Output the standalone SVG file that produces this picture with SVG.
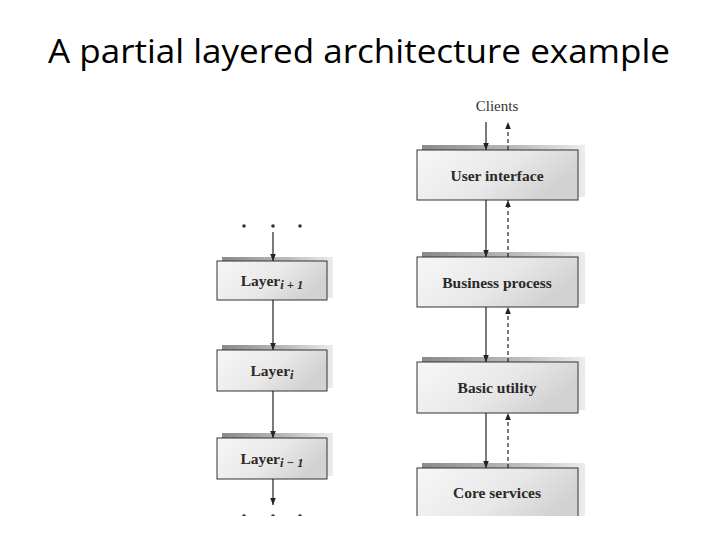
<svg xmlns="http://www.w3.org/2000/svg" width="720" height="540" viewBox="0 0 720 540">
<defs>
<linearGradient id="boxg" x1="0" y1="0" x2="1" y2="0.4">
<stop offset="0" stop-color="#f7f7f7"/>
<stop offset="0.6" stop-color="#e8e8e8"/>
<stop offset="1" stop-color="#d2d2d2"/>
</linearGradient>
<linearGradient id="shg" x1="0" y1="0" x2="1" y2="0">
<stop offset="0" stop-color="#8a8a8a"/>
<stop offset="0.6" stop-color="#bdbdbd"/>
<stop offset="1" stop-color="#ececec"/>
</linearGradient>
<marker id="ah" viewBox="0 0 10 10" refX="10" refY="5" markerWidth="7" markerHeight="7" orient="auto" markerUnits="userSpaceOnUse">
<path d="M0,1 L10,5 L0,9 Z" fill="#222"/>
</marker>
<clipPath id="crop"><rect x="0" y="0" width="720" height="516"/></clipPath>
</defs>
<style>
.title{font-family:"Open Sans","Liberation Sans",sans-serif;font-size:33px;fill:#000}
.lbl{font-family:"Liberation Serif","DejaVu Serif",serif;font-weight:bold;font-size:15.5px;fill:#2a2a2a}
.sub{font-style:italic;font-size:12.5px}
.cl{font-family:"Liberation Serif","DejaVu Serif",serif;font-size:15px;fill:#333}
.box{fill:url(#boxg);stroke:#333;stroke-width:1}
.sh{fill:url(#shg)}
.solid{stroke:#222;stroke-width:1.2;fill:none;marker-end:url(#ah)}
.dash{stroke:#222;stroke-width:1.2;fill:none;stroke-dasharray:4,3;marker-end:url(#ah)}
.dot{fill:#333}
</style>
<rect width="720" height="540" fill="#fff"/>
<text class="title" x="359" y="63" text-anchor="middle" textLength="622" lengthAdjust="spacingAndGlyphs">A partial layered architecture example</text>

<g clip-path="url(#crop)">
<g id="clients"><text class="cl" x="497" y="111" text-anchor="middle">Clients</text></g>

<g id="user-interface">
<rect class="sh" x="422" y="145" width="163" height="52"/>
<rect class="box" x="417" y="150" width="161" height="50"/>
<text class="lbl" x="497" y="181" text-anchor="middle">User interface</text>
</g>
<g id="business-process">
<rect class="sh" x="422" y="252" width="163" height="52"/>
<rect class="box" x="417" y="257" width="161" height="50"/>
<text class="lbl" x="497" y="288" text-anchor="middle">Business process</text>
</g>
<g id="basic-utility">
<rect class="sh" x="422" y="357" width="163" height="53"/>
<rect class="box" x="417" y="362" width="161" height="51"/>
<text class="lbl" x="497" y="393" text-anchor="middle">Basic utility</text>
</g>
<g id="core-services">
<rect class="sh" x="422" y="463" width="163" height="62"/>
<rect class="box" x="417" y="468" width="161" height="60"/>
<text class="lbl" x="497" y="498" text-anchor="middle">Core services</text>
</g>

<g id="layer-i-plus-1">
<rect class="sh" x="222" y="257" width="111" height="41"/>
<rect class="box" x="217" y="261" width="110" height="39"/>
<text class="lbl" x="272" y="286" text-anchor="middle">Layer<tspan class="sub" dy="3">i + 1</tspan></text>
</g>
<g id="layer-i">
<rect class="sh" x="222" y="345" width="111" height="43"/>
<rect class="box" x="217" y="350" width="110" height="41"/>
<text class="lbl" x="272" y="376" text-anchor="middle">Layer<tspan class="sub" dy="3">i</tspan></text>
</g>
<g id="layer-i-minus-1">
<rect class="sh" x="222" y="433" width="111" height="43"/>
<rect class="box" x="217" y="438" width="110" height="41"/>
<text class="lbl" x="272" y="464" text-anchor="middle">Layer<tspan class="sub" dy="3">i − 1</tspan></text>
</g>

<g id="dots">
<circle class="dot" cx="244" cy="226" r="1.8"/>
<circle class="dot" cx="273" cy="226" r="1.8"/>
<circle class="dot" cx="300" cy="226" r="1.8"/>
<circle class="dot" cx="244" cy="516" r="1.8"/>
<circle class="dot" cx="273" cy="516" r="1.8"/>
<circle class="dot" cx="300" cy="516" r="1.8"/>
</g>

<g id="connectors">
<line class="solid" x1="486" y1="122" x2="486" y2="150"/>
<line class="solid" x1="486" y1="200" x2="486" y2="257"/>
<line class="solid" x1="486" y1="307" x2="486" y2="362"/>
<line class="solid" x1="486" y1="413" x2="486" y2="468"/>
<line class="dash" x1="508" y1="150" x2="508" y2="122"/>
<line class="dash" x1="508" y1="257" x2="508" y2="200"/>
<line class="dash" x1="508" y1="362" x2="508" y2="307"/>
<line class="dash" x1="508" y1="468" x2="508" y2="413"/>
<line class="solid" x1="273" y1="232" x2="273" y2="261"/>
<line class="solid" x1="273" y1="300" x2="273" y2="350"/>
<line class="solid" x1="273" y1="391" x2="273" y2="438"/>
<line class="solid" x1="273" y1="479" x2="273" y2="505"/>
</g>
</g>
</svg>
